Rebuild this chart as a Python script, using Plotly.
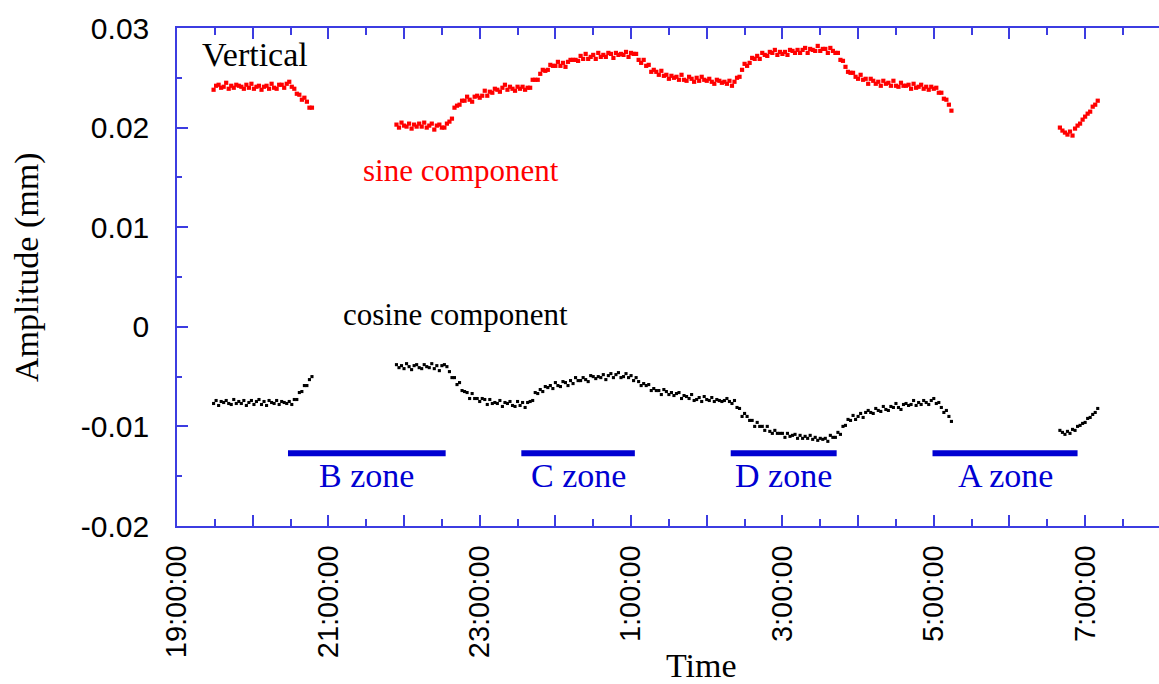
import pandas as pd
import plotly.graph_objects as go

# Recorder sampling interval
SAMPLE_STEP = "2min"

# Start time of each continuous recording segment
segment_starts = ["2000-01-01 19:29", "2000-01-01 21:54", "2000-01-02 06:40"]

# Sine component amplitude (mm), one list per segment
sine_seg1 = [
    0.0238, 0.0242, 0.0243, 0.0240, 0.0241, 0.0245, 0.0239, 0.0242, 0.0240, 0.0243,
    0.0242, 0.0241, 0.0239, 0.0243, 0.0240, 0.0244, 0.0239, 0.0241, 0.0242, 0.0238,
    0.0241, 0.0242, 0.0239, 0.0244, 0.0240, 0.0239, 0.0243, 0.0243, 0.0240, 0.0244,
    0.0246, 0.0241, 0.0239, 0.0234, 0.0233, 0.0228, 0.0230, 0.0226, 0.0220, 0.0220,
]
sine_seg2 = [
    0.0203, 0.0200, 0.0205, 0.0202, 0.0201, 0.0204, 0.0199, 0.0203, 0.0201, 0.0204,
    0.0201, 0.0205, 0.0200, 0.0202, 0.0204, 0.0198, 0.0202, 0.0203, 0.0200, 0.0200,
    0.0204, 0.0206, 0.0209, 0.0220, 0.0222, 0.0223, 0.0227, 0.0227, 0.0231, 0.0228,
    0.0226, 0.0231, 0.0232, 0.0230, 0.0232, 0.0237, 0.0232, 0.0236, 0.0235, 0.0239,
    0.0238, 0.0236, 0.0240, 0.0243, 0.0238, 0.0241, 0.0239, 0.0237, 0.0241, 0.0239,
    0.0241, 0.0238, 0.0240, 0.0240, 0.0248, 0.0248, 0.0248, 0.0254, 0.0258, 0.0257,
    0.0258, 0.0263, 0.0262, 0.0262, 0.0266, 0.0262, 0.0265, 0.0261, 0.0266, 0.0268,
    0.0268, 0.0268, 0.0267, 0.0272, 0.0269, 0.0274, 0.0269, 0.0271, 0.0273, 0.0269,
    0.0275, 0.0271, 0.0273, 0.0271, 0.0275, 0.0274, 0.0270, 0.0275, 0.0273, 0.0274,
    0.0273, 0.0276, 0.0271, 0.0275, 0.0274, 0.0274, 0.0268, 0.0265, 0.0268, 0.0262,
    0.0263, 0.0256, 0.0258, 0.0256, 0.0253, 0.0257, 0.0252, 0.0253, 0.0249, 0.0252,
    0.0250, 0.0251, 0.0248, 0.0253, 0.0248, 0.0247, 0.0251, 0.0249, 0.0246, 0.0250,
    0.0247, 0.0251, 0.0248, 0.0247, 0.0249, 0.0246, 0.0244, 0.0248, 0.0247, 0.0245,
    0.0246, 0.0244, 0.0247, 0.0242, 0.0246, 0.0250, 0.0251, 0.0258, 0.0264, 0.0262,
    0.0265, 0.0270, 0.0269, 0.0272, 0.0269, 0.0275, 0.0273, 0.0272, 0.0276, 0.0275,
    0.0278, 0.0273, 0.0276, 0.0274, 0.0276, 0.0273, 0.0278, 0.0277, 0.0275, 0.0278,
    0.0275, 0.0278, 0.0280, 0.0275, 0.0279, 0.0278, 0.0277, 0.0282, 0.0277, 0.0279,
    0.0279, 0.0275, 0.0280, 0.0277, 0.0275, 0.0275, 0.0268, 0.0267, 0.0261, 0.0256,
    0.0255, 0.0255, 0.0251, 0.0249, 0.0253, 0.0248, 0.0249, 0.0244, 0.0249, 0.0247,
    0.0244, 0.0246, 0.0242, 0.0247, 0.0244, 0.0245, 0.0242, 0.0247, 0.0242, 0.0241,
    0.0245, 0.0242, 0.0242, 0.0243, 0.0239, 0.0244, 0.0240, 0.0241, 0.0243, 0.0239,
    0.0241, 0.0238, 0.0241, 0.0239, 0.0240, 0.0235, 0.0235, 0.0229, 0.0228, 0.0223,
    0.0217,
]
sine_seg3 = [
    0.0200, 0.0197, 0.0195, 0.0193, 0.0196, 0.0192, 0.0199, 0.0202, 0.0204, 0.0208,
    0.0211, 0.0214, 0.0216, 0.0221, 0.0223, 0.0227,
]

# Cosine component amplitude (mm), one list per segment
cos_seg1 = [
    -0.0077, -0.0074, -0.0079, -0.0075, -0.0076, -0.0074, -0.0077, -0.0078, -0.0073, -0.0077,
    -0.0075, -0.0077, -0.0074, -0.0079, -0.0076, -0.0074, -0.0078, -0.0075, -0.0073, -0.0078,
    -0.0075, -0.0079, -0.0074, -0.0076, -0.0077, -0.0074, -0.0078, -0.0075, -0.0076, -0.0077,
    -0.0075, -0.0078, -0.0073, -0.0073, -0.0066, -0.0065, -0.0059, -0.0059, -0.0053, -0.0050,
]
cos_seg2 = [
    -0.0038, -0.0041, -0.0039, -0.0042, -0.0037, -0.0040, -0.0043, -0.0039, -0.0038, -0.0041,
    -0.0042, -0.0038, -0.0040, -0.0041, -0.0037, -0.0042, -0.0039, -0.0044, -0.0039, -0.0038,
    -0.0040, -0.0045, -0.0051, -0.0051, -0.0058, -0.0056, -0.0064, -0.0065, -0.0066, -0.0072,
    -0.0067, -0.0072, -0.0072, -0.0075, -0.0072, -0.0073, -0.0078, -0.0073, -0.0077, -0.0076,
    -0.0077, -0.0074, -0.0080, -0.0076, -0.0077, -0.0075, -0.0079, -0.0080, -0.0075, -0.0079,
    -0.0076, -0.0081, -0.0076, -0.0075, -0.0074, -0.0066, -0.0067, -0.0063, -0.0065, -0.0060,
    -0.0061, -0.0059, -0.0062, -0.0056, -0.0059, -0.0060, -0.0055, -0.0056, -0.0059, -0.0054,
    -0.0057, -0.0051, -0.0054, -0.0054, -0.0051, -0.0053, -0.0055, -0.0049, -0.0050, -0.0052,
    -0.0050, -0.0051, -0.0048, -0.0053, -0.0049, -0.0047, -0.0051, -0.0048, -0.0046, -0.0051,
    -0.0050, -0.0047, -0.0051, -0.0049, -0.0054, -0.0051, -0.0055, -0.0059, -0.0057, -0.0059,
    -0.0058, -0.0064, -0.0062, -0.0064, -0.0064, -0.0068, -0.0063, -0.0065, -0.0068, -0.0066,
    -0.0069, -0.0067, -0.0066, -0.0072, -0.0069, -0.0070, -0.0072, -0.0068, -0.0074, -0.0073,
    -0.0071, -0.0075, -0.0070, -0.0073, -0.0074, -0.0071, -0.0075, -0.0073, -0.0074, -0.0075,
    -0.0074, -0.0072, -0.0075, -0.0077, -0.0074, -0.0081, -0.0082, -0.0090, -0.0087, -0.0090,
    -0.0094, -0.0094, -0.0100, -0.0096, -0.0100, -0.0100, -0.0104, -0.0100, -0.0105, -0.0107,
    -0.0104, -0.0107, -0.0107, -0.0107, -0.0111, -0.0107, -0.0110, -0.0109, -0.0108, -0.0112,
    -0.0109, -0.0112, -0.0110, -0.0112, -0.0109, -0.0113, -0.0111, -0.0114, -0.0112, -0.0113,
    -0.0112, -0.0115, -0.0109, -0.0111, -0.0111, -0.0106, -0.0108, -0.0100, -0.0099, -0.0093,
    -0.0094, -0.0089, -0.0093, -0.0090, -0.0087, -0.0091, -0.0086, -0.0084, -0.0086, -0.0087,
    -0.0082, -0.0084, -0.0085, -0.0080, -0.0083, -0.0084, -0.0080, -0.0081, -0.0077, -0.0081,
    -0.0083, -0.0078, -0.0077, -0.0079, -0.0078, -0.0074, -0.0079, -0.0076, -0.0078, -0.0074,
    -0.0076, -0.0078, -0.0074, -0.0072, -0.0077, -0.0076, -0.0081, -0.0086, -0.0084, -0.0090,
    -0.0095,
]
cos_seg3 = [
    -0.0104, -0.0106, -0.0108, -0.0105, -0.0107, -0.0103, -0.0104, -0.0100, -0.0099, -0.0097,
    -0.0096, -0.0092, -0.0091, -0.0088, -0.0086, -0.0082,
]

# Construction zones passed during the run
zone_names = ["B zone", "C zone", "D zone", "A zone"]
zone_start = ["2000-01-01 20:28", "2000-01-01 23:33", "2000-01-02 02:19", "2000-01-02 04:59"]
zone_end = ["2000-01-01 22:33", "2000-01-02 01:03", "2000-01-02 03:43", "2000-01-02 06:54"]

# Axis ticks
hour_ticks = pd.date_range("2000-01-01 19:00", "2000-01-02 07:00", freq="1h")
hour_labels = ["19:00:00", "", "21:00:00", "", "23:00:00", "", "1:00:00", "",
               "3:00:00", "", "5:00:00", "", "7:00:00"]
amp_ticks = [-0.02, -0.01, 0.0, 0.01, 0.02, 0.03]
amp_labels = ["-0.02", "-0.01", "0", "0.01", "0.02", "0.03"]

SERIF = "Liberation Serif, Times New Roman, serif"
SANS = "Liberation Sans, Arial, sans-serif"
AXIS_BLUE = "rgb(60,60,225)"
ZONE_BLUE = "#0000d2"
ZONE_LEVEL = -0.0127
ZONE_TEXT_LEVEL = -0.0149


def segment_series(segments):
    xs, ys = [], []
    for start, vals in zip(segment_starts, segments):
        xs.extend(pd.date_range(start, periods=len(vals), freq=SAMPLE_STEP))
        ys.extend(vals)
    return xs, ys


sine_x, sine_y = segment_series([sine_seg1, sine_seg2, sine_seg3])
cos_x, cos_y = segment_series([cos_seg1, cos_seg2, cos_seg3])

fig = go.Figure()

fig.add_trace(go.Scatter(
    x=sine_x, y=sine_y, mode="markers",
    marker=dict(symbol="square", size=4.2, color="#ff0000", line=dict(width=0)),
    showlegend=False,
))
fig.add_trace(go.Scatter(
    x=cos_x, y=cos_y, mode="markers",
    marker=dict(symbol="square", size=3.1, color="#000000", line=dict(width=0)),
    showlegend=False,
))

# Zone bars
bar_x, bar_y = [], []
for s, e in zip(zone_start, zone_end):
    bar_x += [pd.Timestamp(s), pd.Timestamp(e), None]
    bar_y += [ZONE_LEVEL, ZONE_LEVEL, None]
fig.add_trace(go.Scatter(
    x=bar_x, y=bar_y, mode="lines",
    line=dict(color=ZONE_BLUE, width=6),
    showlegend=False,
))

for name, s, e in zip(zone_names, zone_start, zone_end):
    mid = pd.Timestamp(s) + (pd.Timestamp(e) - pd.Timestamp(s)) / 2
    fig.add_annotation(
        x=mid, y=ZONE_TEXT_LEVEL, text=name, showarrow=False,
        font=dict(family=SERIF, size=34, color=ZONE_BLUE),
        xanchor="center", yanchor="middle",
    )

fig.add_annotation(
    x="2000-01-01 19:17:55", y=0.0273, text="Vertical", showarrow=False,
    font=dict(family=SERIF, size=34, color="black"),
    xanchor="left", yanchor="middle",
)
fig.add_annotation(
    x="2000-01-01 22:45:20", y=0.0157, text="sine component", showarrow=False,
    font=dict(family=SERIF, size=31, color="#ff0000"),
    xanchor="center", yanchor="middle",
)
fig.add_annotation(
    x="2000-01-01 22:41:00", y=0.0012, text="cosine component", showarrow=False,
    font=dict(family=SERIF, size=31, color="black"),
    xanchor="center", yanchor="middle",
)

# Axis titles
fig.add_annotation(
    xref="paper", yref="paper", x=(701 - 177) / (1159 - 177), y=(526 - 665) / 498,
    text="Time", showarrow=False,
    font=dict(family=SERIF, size=34, color="black"),
    xanchor="center", yanchor="middle",
)
fig.add_annotation(
    xref="paper", yref="paper", x=(27 - 177) / (1159 - 177), y=(526 - 268) / 498,
    text="Amplitude (mm)", showarrow=False, textangle=-90,
    font=dict(family=SERIF, size=34, color="black"),
    xanchor="center", yanchor="middle",
)

fig.update_xaxes(
    type="date",
    range=["2000-01-01 19:00", "2000-01-02 07:58:34"],
    tickmode="array", tickvals=hour_ticks, ticktext=hour_labels,
    tickangle=-90,
    tickfont=dict(family=SANS, size=29, color="black"),
    ticks="inside", ticklen=11, tickwidth=1.5, tickcolor=AXIS_BLUE,
    minor=dict(ticks="inside", ticklen=7, tickwidth=1.5, tickcolor=AXIS_BLUE,
               tick0="2000-01-01 19:30", dtick=1800000),
    showline=True, linecolor=AXIS_BLUE, linewidth=1.5, mirror="allticks",
    showgrid=False, zeroline=False,
    ticklabelstandoff=6,
)
fig.update_yaxes(
    range=[-0.02, 0.03],
    tickmode="array", tickvals=amp_ticks, ticktext=amp_labels,
    tickfont=dict(family=SANS, size=30, color="black"),
    ticks="inside", ticklen=11, tickwidth=1.5, tickcolor=AXIS_BLUE,
    minor=dict(ticks="inside", ticklen=5, tickwidth=1.5, tickcolor=AXIS_BLUE,
               tick0=0, dtick=0.005),
    showline=True, linecolor=AXIS_BLUE, linewidth=1.5, mirror=False,
    showgrid=False, zeroline=False,
    ticklabelstandoff=20,
)

fig.update_layout(
    width=1159, height=684,
    margin=dict(l=177, r=0, t=28, b=158),
    paper_bgcolor="white", plot_bgcolor="white",
    showlegend=False,
)

fig.write_html("out.html")
